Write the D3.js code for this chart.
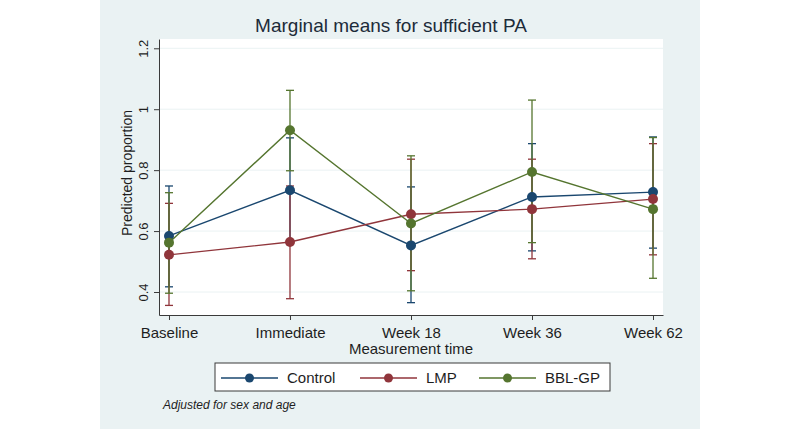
<!DOCTYPE html>
<html><head><meta charset="utf-8">
<script src="https://cdn.jsdelivr.net/npm/d3@7"></script>
<style>
html,body{margin:0;padding:0;background:#fff;}
svg{display:block;font-family:"Liberation Sans",Arial,sans-serif;}
</style></head>
<body><svg id="chart" width="800" height="429"></svg>
<script>
const categories = ["Baseline","Immediate","Week 18","Week 36","Week 62"];
const yTicks = [0.4, 0.6, 0.8, 1.0, 1.2];
const seriesNames = ["Control","LMP","BBL-GP"];
const seriesColors = ["#1a476f","#90353b","#55752f"];
const controlMean = [0.584, 0.734, 0.553, 0.712, 0.728];
const controlLo   = [0.417, 0.562, 0.365, 0.535, 0.544];
const controlHi   = [0.748, 0.906, 0.745, 0.887, 0.909];
const lmpMean = [0.522, 0.564, 0.655, 0.672, 0.705];
const lmpLo   = [0.356, 0.378, 0.470, 0.509, 0.522];
const lmpHi   = [0.691, 0.748, 0.836, 0.836, 0.887];
const bblMean = [0.562, 0.931, 0.625, 0.794, 0.672];
const bblLo   = [0.396, 0.798, 0.404, 0.562, 0.445];
const bblHi   = [0.726, 1.062, 0.847, 1.030, 0.907];

const series = [
  {name: seriesNames[0], color: seriesColors[0], mean: controlMean, lo: controlLo, hi: controlHi},
  {name: seriesNames[1], color: seriesColors[1], mean: lmpMean, lo: lmpLo, hi: lmpHi},
  {name: seriesNames[2], color: seriesColors[2], mean: bblMean, lo: bblLo, hi: bblHi}
];

const svg = d3.select("#chart");
const bg = "#eaf2f3";
svg.append("rect").attr("x",100).attr("y",0).attr("width",600).attr("height",429).attr("fill",bg);

const plot = {l:159, r:663, t:39, b:315};
svg.append("rect").attr("x",plot.l).attr("y",plot.t).attr("width",plot.r-plot.l).attr("height",plot.b-plot.t).attr("fill","#fff");

const x = d3.scalePoint().domain(categories).range([plot.l, plot.r]).padding(0.0826);
const y = d3.scaleLinear().domain([0.3245, 1.2305]).range([plot.b, plot.t]);

svg.append("g").selectAll("line").data(yTicks).join("line")
  .attr("x1",plot.l).attr("x2",plot.r)
  .attr("y1",d=>y(d)).attr("y2",d=>y(d))
  .attr("stroke",bg).attr("stroke-width",1);

const axisColor = "#3a3a3a";
const textColor = "#1e1e1e";

const yAxis = svg.append("g").attr("transform",`translate(${plot.l},0)`)
  .call(d3.axisLeft(y).tickValues(yTicks).tickSizeOuter(0).tickSizeInner(5).tickPadding(10)
    .tickFormat(d=>String(+d.toFixed(1))));
yAxis.select(".domain").attr("stroke",axisColor);
yAxis.selectAll(".tick line").attr("stroke",axisColor);
yAxis.selectAll(".tick text")
  .attr("fill",textColor).attr("font-size",13).attr("font-family","Liberation Sans, Arial, sans-serif")
  .attr("dy",0).attr("text-anchor","middle")
  .attr("transform","rotate(-90)").attr("x",0).attr("y",-11);

const xAxis = svg.append("g").attr("transform",`translate(0,${plot.b})`)
  .call(d3.axisBottom(x).tickSizeOuter(0).tickSizeInner(5).tickPadding(7));
xAxis.select(".domain").attr("stroke",axisColor);
xAxis.selectAll(".tick line").attr("stroke",axisColor);
xAxis.selectAll(".tick text").attr("fill",textColor).attr("font-size",15)
  .attr("font-family","Liberation Sans, Arial, sans-serif");

svg.append("text").attr("x",391).attr("y",32).attr("text-anchor","middle")
  .attr("font-size",19).attr("fill","#1c2b39").text("Marginal means for sufficient PA");
svg.append("text").attr("x",411).attr("y",354).attr("text-anchor","middle")
  .attr("font-size",15).attr("fill",textColor).text("Measurement time");
svg.append("text").attr("transform","translate(132,173) rotate(-90)").attr("text-anchor","middle")
  .attr("font-size",14).attr("fill",textColor).text("Predicted proportion");

const cap = 4;
series.forEach(s=>{
  const g = svg.append("g");
  categories.forEach((c,i)=>{
    const cx = x(c);
    g.append("line").attr("x1",cx).attr("x2",cx).attr("y1",y(s.lo[i])).attr("y2",y(s.hi[i]))
      .attr("stroke",s.color).attr("stroke-width",1.3);
    [s.lo[i], s.hi[i]].forEach(v=>{
      g.append("line").attr("x1",cx-cap).attr("x2",cx+cap).attr("y1",y(v)).attr("y2",y(v))
        .attr("stroke",s.color).attr("stroke-width",1.3);
    });
  });
});

const line = d3.line().x((d,i)=>x(categories[i])).y(d=>y(d));
series.forEach(s=>{
  svg.append("path").attr("d",line(s.mean)).attr("fill","none").attr("stroke",s.color).attr("stroke-width",1.4);
  svg.append("g").selectAll("circle").data(s.mean).join("circle")
    .attr("cx",(d,i)=>x(categories[i])).attr("cy",d=>y(d)).attr("r",5).attr("fill",s.color);
});

const lg = svg.append("g");
lg.append("rect").attr("x",215).attr("y",363).attr("width",395).attr("height",28)
  .attr("fill","#fff").attr("stroke","#3a3a3a").attr("stroke-width",1);
const legX = [221, 360, 479];
series.forEach((s,i)=>{
  const lx = legX[i];
  lg.append("line").attr("x1",lx).attr("x2",lx+57).attr("y1",378).attr("y2",378)
    .attr("stroke",s.color).attr("stroke-width",1.4);
  lg.append("circle").attr("cx",lx+28.5).attr("cy",378).attr("r",4.5).attr("fill",s.color);
  lg.append("text").attr("x",lx+66).attr("y",383).attr("font-size",15).attr("fill",textColor).text(s.name);
});

svg.append("text").attr("x",163).attr("y",409).attr("font-size",12).attr("font-style","italic")
  .attr("fill",textColor).text("Adjusted for sex and age");
</script></body></html>
